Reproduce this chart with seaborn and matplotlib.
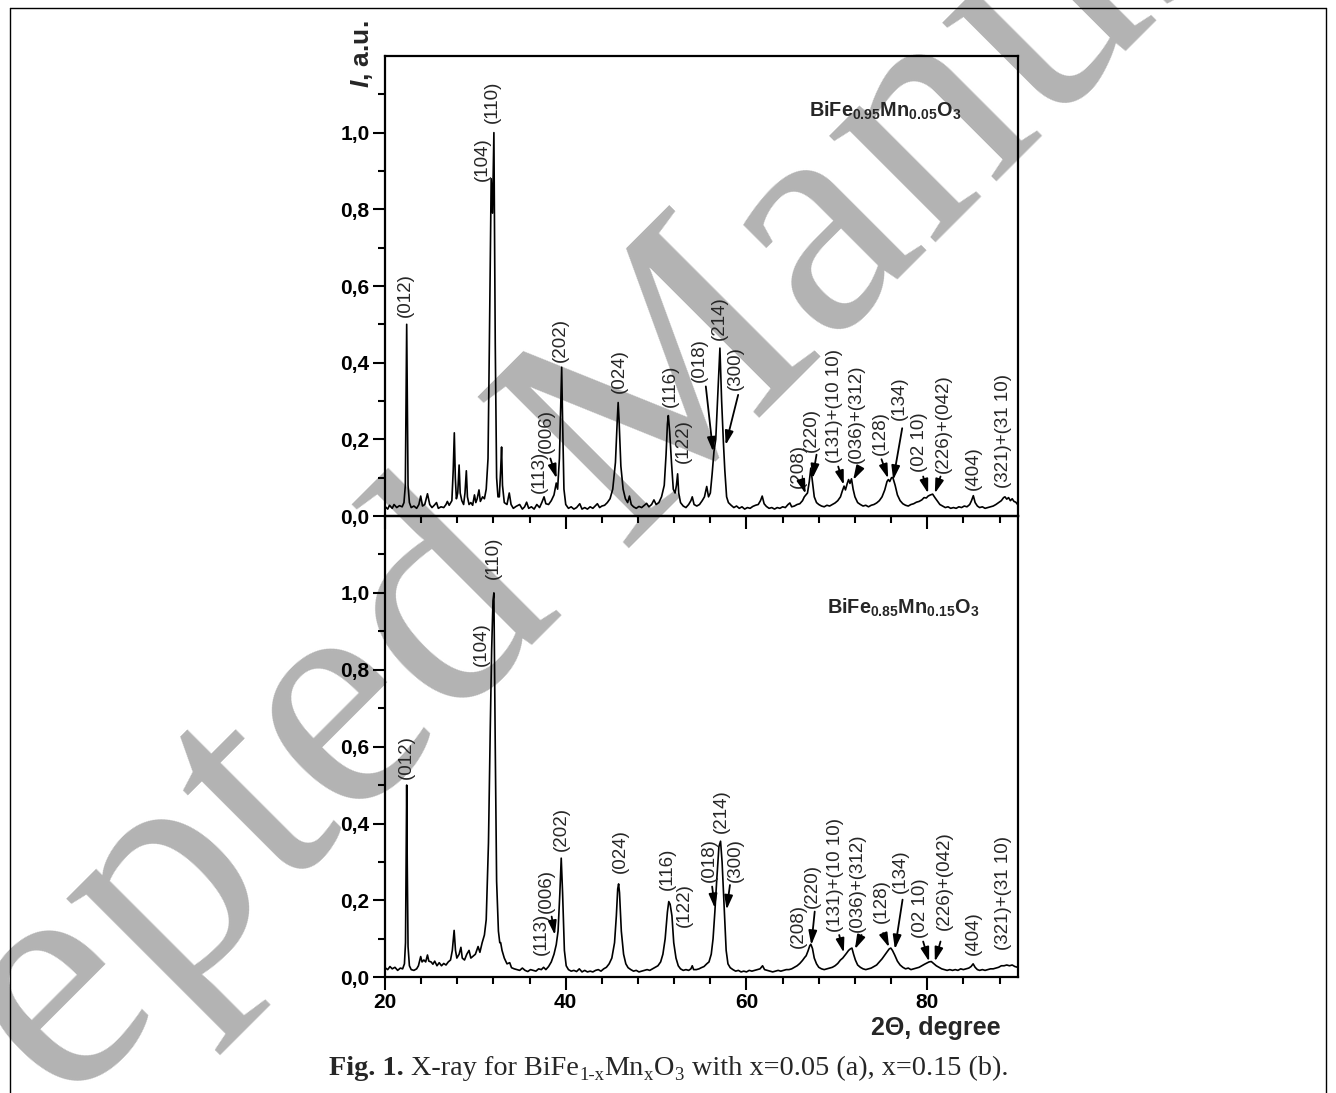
import matplotlib
matplotlib.use("Agg")
import matplotlib.pyplot as plt
import numpy as np
import pandas as pd
import seaborn as sns
from matplotlib.ticker import FixedLocator, MultipleLocator, FuncFormatter, NullFormatter
from matplotlib.lines import Line2D

# ---------------- data ----------------
# 2theta (degree), intensity (a.u.) for BiFe0.95Mn0.05O3
pattern_a = [
    (20.0, 0.025), (20.3, 0.018), (20.5, 0.028), (20.8, 0.020), (21.0, 0.030), (21.3, 0.022),
    (21.6, 0.027), (21.9, 0.024), (22.1, 0.035), (22.25, 0.08), (22.33, 0.30), (22.4, 0.50),
    (22.47, 0.30), (22.55, 0.08), (22.7, 0.035), (22.9, 0.022), (23.2, 0.026), (23.5, 0.020),
    (23.75, 0.030), (23.95, 0.052), (24.15, 0.026), (24.4, 0.030), (24.7, 0.058), (24.95, 0.030),
    (25.2, 0.022), (25.45, 0.028), (25.7, 0.035), (25.9, 0.020), (26.2, 0.024), (26.5, 0.022),
    (26.75, 0.030), (26.9, 0.038), (27.1, 0.028), (27.4, 0.040), (27.55, 0.12), (27.67, 0.217),
    (27.78, 0.10), (27.9, 0.045), (28.05, 0.06), (28.2, 0.133), (28.32, 0.06), (28.5, 0.040),
    (28.7, 0.030), (28.85, 0.06), (29.0, 0.118), (29.12, 0.05), (29.3, 0.030), (29.5, 0.035),
    (29.7, 0.028), (29.9, 0.055), (30.05, 0.035), (30.2, 0.045), (30.4, 0.068), (30.55, 0.038),
    (30.8, 0.05), (31.0, 0.045), (31.2, 0.07), (31.4, 0.15), (31.55, 0.45), (31.75, 0.88),
    (31.9, 0.79), (32.05, 1.0), (32.2, 0.45), (32.35, 0.10), (32.5, 0.05), (32.65, 0.05),
    (32.8, 0.12), (32.9, 0.18), (33.0, 0.08), (33.2, 0.035), (33.5, 0.03), (33.75, 0.06),
    (33.95, 0.03), (34.2, 0.020), (34.5, 0.025), (34.9, 0.030), (35.2, 0.018), (35.45, 0.024),
    (35.67, 0.036), (35.9, 0.020), (36.2, 0.024), (36.5, 0.018), (36.8, 0.030), (37.1, 0.022),
    (37.35, 0.035), (37.6, 0.050), (37.8, 0.032), (38.1, 0.030), (38.4, 0.040), (38.7, 0.055),
    (38.95, 0.086), (39.1, 0.07), (39.3, 0.15), (39.45, 0.30), (39.55, 0.388), (39.65, 0.25),
    (39.8, 0.07), (40.0, 0.030), (40.3, 0.020), (40.6, 0.024), (40.9, 0.018), (41.2, 0.022),
    (41.55, 0.032), (41.8, 0.018), (42.1, 0.022), (42.4, 0.018), (42.7, 0.024), (43.0, 0.020),
    (43.25, 0.026), (43.5, 0.032), (43.75, 0.022), (44.0, 0.026), (44.3, 0.028), (44.6, 0.035),
    (44.9, 0.045), (45.2, 0.07), (45.5, 0.14), (45.7, 0.25), (45.8, 0.296), (45.9, 0.25),
    (46.1, 0.13), (46.35, 0.07), (46.6, 0.045), (46.85, 0.035), (47.05, 0.052), (47.25, 0.030),
    (47.5, 0.024), (47.8, 0.020), (48.1, 0.025), (48.4, 0.022), (48.7, 0.028), (48.95, 0.033),
    (49.2, 0.024), (49.5, 0.030), (49.76, 0.042), (50.0, 0.030), (50.3, 0.035), (50.6, 0.05),
    (50.9, 0.08), (51.1, 0.16), (51.25, 0.24), (51.35, 0.262), (51.5, 0.22), (51.7, 0.14),
    (51.9, 0.07), (52.1, 0.06), (52.25, 0.08), (52.38, 0.11), (52.5, 0.06), (52.7, 0.035),
    (53.0, 0.026), (53.3, 0.022), (53.6, 0.030), (53.85, 0.040), (54.0, 0.050), (54.2, 0.030),
    (54.5, 0.026), (54.8, 0.030), (55.1, 0.040), (55.35, 0.050), (55.6, 0.077), (55.8, 0.05),
    (56.0, 0.06), (56.2, 0.11), (56.4, 0.168), (56.6, 0.20), (56.85, 0.33), (57.06, 0.438),
    (57.25, 0.30), (57.45, 0.19), (57.6, 0.12), (57.8, 0.05), (58.0, 0.035), (58.3, 0.028),
    (58.6, 0.022), (58.9, 0.026), (59.2, 0.020), (59.5, 0.024), (59.8, 0.018), (60.1, 0.022),
    (60.4, 0.020), (60.7, 0.025), (61.0, 0.028), (61.3, 0.030), (61.55, 0.040), (61.74, 0.052),
    (61.95, 0.032), (62.2, 0.025), (62.5, 0.020), (62.8, 0.022), (63.1, 0.018), (63.4, 0.022),
    (63.7, 0.020), (64.0, 0.024), (64.3, 0.022), (64.6, 0.030), (64.8, 0.034), (65.0, 0.024),
    (65.3, 0.026), (65.6, 0.030), (65.9, 0.032), (66.2, 0.040), (66.4, 0.050), (66.57, 0.055),
    (66.75, 0.06), (66.95, 0.09), (67.12, 0.125), (67.3, 0.09), (67.5, 0.05), (67.75, 0.035),
    (68.0, 0.030), (68.3, 0.026), (68.6, 0.024), (68.9, 0.028), (69.2, 0.026), (69.5, 0.030),
    (69.8, 0.034), (70.1, 0.040), (70.4, 0.05), (70.6, 0.065), (70.8, 0.078), (70.95, 0.068),
    (71.15, 0.085), (71.3, 0.095), (71.45, 0.085), (71.62, 0.097), (71.8, 0.07), (72.0, 0.05),
    (72.3, 0.035), (72.6, 0.030), (72.9, 0.026), (73.2, 0.028), (73.5, 0.024), (73.8, 0.028),
    (74.1, 0.030), (74.4, 0.034), (74.7, 0.040), (75.0, 0.05), (75.3, 0.068), (75.55, 0.09),
    (75.7, 0.095), (75.85, 0.09), (76.05, 0.10), (76.2, 0.10), (76.45, 0.08), (76.7, 0.055),
    (77.0, 0.040), (77.3, 0.032), (77.6, 0.028), (77.9, 0.026), (78.2, 0.030), (78.5, 0.032),
    (78.8, 0.036), (79.1, 0.038), (79.4, 0.042), (79.65, 0.048), (79.9, 0.047), (80.1, 0.052),
    (80.35, 0.055), (80.6, 0.057), (80.85, 0.048), (81.1, 0.040), (81.4, 0.030), (81.7, 0.026),
    (82.0, 0.022), (82.3, 0.024), (82.6, 0.020), (82.9, 0.022), (83.2, 0.020), (83.5, 0.024),
    (83.8, 0.022), (84.1, 0.026), (84.4, 0.024), (84.7, 0.030), (84.9, 0.040), (85.1, 0.053),
    (85.3, 0.035), (85.55, 0.026), (85.8, 0.022), (86.1, 0.024), (86.4, 0.020), (86.7, 0.022),
    (87.0, 0.024), (87.3, 0.026), (87.6, 0.030), (87.9, 0.035), (88.2, 0.040), (88.45, 0.048),
    (88.6, 0.050), (88.8, 0.044), (89.0, 0.048), (89.2, 0.040), (89.4, 0.045), (89.6, 0.038),
    (89.8, 0.036), (90.0, 0.030),
]

# 2theta (degree), intensity (a.u.) for BiFe0.85Mn0.15O3
pattern_b = [
    (20.0, 0.025), (20.3, 0.020), (20.55, 0.028), (20.8, 0.022), (21.1, 0.026), (21.4, 0.018),
    (21.7, 0.024), (21.95, 0.022), (22.15, 0.035), (22.27, 0.09), (22.34, 0.30), (22.4, 0.50),
    (22.46, 0.30), (22.55, 0.08), (22.7, 0.03), (22.9, 0.020), (23.2, 0.018), (23.5, 0.022),
    (23.7, 0.030), (23.85, 0.045), (23.95, 0.054), (24.1, 0.040), (24.3, 0.045), (24.5, 0.040),
    (24.7, 0.058), (24.85, 0.042), (25.1, 0.040), (25.3, 0.034), (25.5, 0.042), (25.75, 0.030),
    (26.0, 0.038), (26.25, 0.030), (26.5, 0.036), (26.75, 0.032), (27.0, 0.040), (27.25, 0.045),
    (27.45, 0.07), (27.65, 0.122), (27.8, 0.07), (27.95, 0.05), (28.2, 0.06), (28.4, 0.078),
    (28.55, 0.05), (28.8, 0.045), (29.05, 0.06), (29.3, 0.07), (29.5, 0.05), (29.75, 0.055),
    (30.0, 0.06), (30.3, 0.08), (30.5, 0.065), (30.75, 0.09), (31.0, 0.11), (31.2, 0.15),
    (31.45, 0.35), (31.65, 0.65), (31.8, 0.85), (31.95, 0.98), (32.05, 1.0), (32.2, 0.60),
    (32.35, 0.25), (32.55, 0.12), (32.7, 0.09), (32.8, 0.09), (32.95, 0.07), (33.2, 0.05),
    (33.5, 0.035), (33.8, 0.038), (34.0, 0.025), (34.3, 0.022), (34.6, 0.020), (34.9, 0.018),
    (35.2, 0.024), (35.5, 0.018), (35.8, 0.015), (36.1, 0.020), (36.4, 0.018), (36.7, 0.016),
    (37.0, 0.022), (37.3, 0.020), (37.55, 0.026), (37.8, 0.020), (38.1, 0.028), (38.4, 0.040),
    (38.7, 0.060), (38.95, 0.085), (39.15, 0.12), (39.35, 0.22), (39.5, 0.31), (39.65, 0.22),
    (39.85, 0.07), (40.05, 0.030), (40.3, 0.020), (40.6, 0.016), (40.9, 0.018), (41.2, 0.015),
    (41.5, 0.022), (41.8, 0.014), (42.1, 0.018), (42.4, 0.014), (42.7, 0.016), (43.0, 0.014),
    (43.3, 0.018), (43.6, 0.020), (43.9, 0.016), (44.2, 0.022), (44.5, 0.026), (44.8, 0.035),
    (45.1, 0.05), (45.4, 0.09), (45.6, 0.16), (45.75, 0.23), (45.85, 0.243), (45.95, 0.22),
    (46.15, 0.12), (46.4, 0.06), (46.65, 0.035), (46.9, 0.025), (47.2, 0.020), (47.5, 0.016),
    (47.8, 0.018), (48.1, 0.014), (48.4, 0.016), (48.7, 0.018), (49.0, 0.020), (49.3, 0.018),
    (49.6, 0.022), (49.9, 0.026), (50.2, 0.030), (50.5, 0.040), (50.75, 0.06), (51.0, 0.10),
    (51.25, 0.17), (51.4, 0.197), (51.55, 0.19), (51.75, 0.16), (51.95, 0.09), (52.2, 0.05),
    (52.45, 0.030), (52.7, 0.022), (53.0, 0.018), (53.3, 0.020), (53.6, 0.018), (53.85, 0.022),
    (54.0, 0.030), (54.15, 0.020), (54.45, 0.020), (54.75, 0.022), (55.0, 0.025), (55.3, 0.028),
    (55.6, 0.035), (55.85, 0.040), (56.1, 0.06), (56.3, 0.10), (56.5, 0.17), (56.7, 0.25),
    (56.95, 0.34), (57.13, 0.354), (57.3, 0.30), (57.55, 0.17), (57.75, 0.07), (57.95, 0.035),
    (58.2, 0.025), (58.5, 0.020), (58.8, 0.016), (59.1, 0.018), (59.4, 0.014), (59.7, 0.016),
    (60.0, 0.014), (60.3, 0.018), (60.6, 0.016), (60.9, 0.018), (61.2, 0.020), (61.5, 0.022),
    (61.78, 0.030), (62.0, 0.020), (62.3, 0.018), (62.6, 0.016), (62.9, 0.014), (63.2, 0.016),
    (63.5, 0.018), (63.8, 0.016), (64.1, 0.018), (64.4, 0.020), (64.7, 0.020), (65.0, 0.022),
    (65.3, 0.026), (65.6, 0.030), (65.9, 0.036), (66.2, 0.044), (66.45, 0.052), (66.6, 0.056),
    (66.8, 0.068), (67.0, 0.082), (67.12, 0.086), (67.3, 0.075), (67.5, 0.05), (67.75, 0.035),
    (68.0, 0.026), (68.3, 0.022), (68.6, 0.020), (68.9, 0.022), (69.2, 0.024), (69.5, 0.026),
    (69.8, 0.030), (70.1, 0.036), (70.4, 0.045), (70.65, 0.05), (70.85, 0.056), (71.05, 0.062),
    (71.3, 0.07), (71.5, 0.074), (71.67, 0.076), (71.85, 0.06), (72.05, 0.045), (72.3, 0.032),
    (72.6, 0.026), (72.9, 0.022), (73.2, 0.020), (73.5, 0.022), (73.8, 0.024), (74.1, 0.028),
    (74.4, 0.032), (74.7, 0.040), (75.0, 0.048), (75.3, 0.058), (75.55, 0.066), (75.8, 0.074),
    (75.97, 0.076), (76.15, 0.07), (76.4, 0.058), (76.7, 0.042), (77.0, 0.032), (77.3, 0.026),
    (77.6, 0.022), (77.9, 0.024), (78.2, 0.020), (78.5, 0.022), (78.8, 0.024), (79.1, 0.026),
    (79.4, 0.030), (79.7, 0.034), (79.95, 0.037), (80.2, 0.040), (80.45, 0.041), (80.7, 0.036),
    (81.0, 0.030), (81.3, 0.026), (81.6, 0.022), (81.9, 0.020), (82.2, 0.018), (82.5, 0.020),
    (82.8, 0.018), (83.1, 0.020), (83.4, 0.018), (83.7, 0.022), (84.0, 0.020), (84.3, 0.022),
    (84.6, 0.024), (84.85, 0.028), (85.08, 0.035), (85.3, 0.026), (85.55, 0.020), (85.8, 0.018),
    (86.1, 0.020), (86.4, 0.018), (86.7, 0.020), (87.0, 0.022), (87.3, 0.022), (87.6, 0.024),
    (87.9, 0.026), (88.2, 0.030), (88.5, 0.030), (88.8, 0.032), (89.1, 0.030), (89.4, 0.032),
    (89.7, 0.028), (90.0, 0.026),
]

formula_a = r"$\mathbf{BiFe_{0.95}Mn_{0.05}O_3}$"
formula_b = r"$\mathbf{BiFe_{0.85}Mn_{0.15}O_3}$"

# peak labels: (text, 2theta of label, intensity at label start)
labels_a = [
    ("(012)", 22.2, 0.52), ("(104)", 30.8, 0.873), ("(110)", 31.9, 1.025),
    ("(113)", 37.07, 0.06), ("(006)", 37.9, 0.164), ("(202)", 39.36, 0.403),
    ("(024)", 45.92, 0.32), ("(116)", 51.53, 0.285), ("(122)", 53.0, 0.137),
    ("(018)", 54.77, 0.35), ("(214)", 56.98, 0.46), ("(300)", 58.72, 0.33),
    ("(208)", 65.72, 0.072), ("(220)", 67.2, 0.168), ("(131)+(10 10)", 69.78, 0.137),
    ("(036)+(312)", 72.18, 0.137), ("(128)", 74.87, 0.159), ("(134)", 76.97, 0.25),
    ("(02 10)", 79.1, 0.116), ("(226)+(042)", 81.76, 0.111), ("(404)", 85.08, 0.068),
    ("(321)+(31 10)", 88.4, 0.072),
]
arrows_a = [
    ((38.3, 0.150), (39.0, 0.098)), ((55.5, 0.338), (56.3, 0.168)),
    ((59.08, 0.316), (57.69, 0.185)), ((66.3, 0.075), (66.55, 0.058)),
    ((67.75, 0.16), (67.3, 0.098)), ((70.15, 0.129), (70.77, 0.081)),
    ((72.54, 0.126), (71.8, 0.094)), ((74.94, 0.148), (75.68, 0.098)),
    ((77.23, 0.229), (76.23, 0.094)), ((79.55, 0.103), (80.1, 0.059)),
    ((81.47, 0.103), (80.84, 0.059)),
]
labels_b = [
    ("(012)", 22.4, 0.515), ("(104)", 30.7, 0.81), ("(110)", 32.0, 1.036),
    ("(113)", 37.3, 0.058), ("(006)", 37.85, 0.167), ("(202)", 39.53, 0.328),
    ("(024)", 46.0, 0.271), ("(116)", 51.23, 0.228), ("(122)", 53.08, 0.132),
    ("(018)", 55.88, 0.249), ("(214)", 57.25, 0.376), ("(300)", 58.72, 0.249),
    ("(208)", 65.72, 0.076), ("(220)", 67.3, 0.18), ("(131)+(10 10)", 69.9, 0.119),
    ("(036)+(312)", 72.25, 0.119), ("(128)", 74.94, 0.141), ("(134)", 77.04, 0.219),
    ("(02 10)", 79.25, 0.102), ("(226)+(042)", 81.95, 0.123), ("(404)", 85.08, 0.057),
    ("(321)+(31 10)", 88.48, 0.071),
]
arrows_b = [
    ((38.44, 0.158), (38.8, 0.11)), ((56.2, 0.236), (56.5, 0.18)),
    ((58.17, 0.24), (57.8, 0.176)), ((67.55, 0.171), (67.17, 0.084)),
    ((70.26, 0.11), (70.77, 0.064)), ((72.73, 0.11), (71.99, 0.073)),
    ((75.12, 0.115), (75.78, 0.078)), ((77.27, 0.202), (76.42, 0.073)),
    ((79.55, 0.093), (80.21, 0.041)), ((81.47, 0.093), (80.84, 0.041)),
]

y_major = [0.0, 0.2, 0.4, 0.6, 0.8, 1.0]
y_minor = [0.1, 0.3, 0.5, 0.7, 0.9, 1.1]
x_major = [20, 40, 60, 80]

# caption pieces: (text, is_subscript)
caption_pieces = [("X-ray for BiFe", False), ("1-x", True), ("Mn", False), ("x", True),
                  ("O", False), ("3", True), ("with x=0.05 (a), x=0.15 (b).", False)]

# ---------------- style ----------------
sns.set_style("ticks")
plt.rcParams.update({
    "font.family": ["Liberation Sans", "DejaVu Sans"],
    "mathtext.fontset": "custom",
    "mathtext.bf": "Liberation Sans:bold",
    "mathtext.it": "Liberation Sans:italic:bold",
    "mathtext.rm": "Liberation Sans:bold",
    "mathtext.sf": "Liberation Sans:bold",
    "axes.linewidth": 1.6,
    "axes.edgecolor": "black",
    "xtick.color": "black",
    "ytick.color": "black",
})

W, H = 1336, 1093
fig = plt.figure(figsize=(W / 100, H / 100), dpi=100)
fig.patch.set_facecolor("white")

# watermark (behind the plot)
fig.text(0.47, 0.60, "Accepted Manuscript", rotation=45, rotation_mode="anchor",
         ha="center", va="center", fontsize=235, family="Liberation Serif",
         color="#b3b3b3", zorder=-5)

# frame around the figure
for xs, ys in [((10 / W, 10 / W), (0, 1 - 8 / H)), ((10 / W, 1326 / W), (1 - 8 / H, 1 - 8 / H)),
               ((1326 / W, 1326 / W), (1 - 8 / H, 0))]:
    fig.add_artist(Line2D(xs, ys, color="black", lw=1.0))

left, width = 385 / W, 632.6 / W
ax_a = fig.add_axes([left, 1 - 516 / H, width, 460 / H])
ax_b = fig.add_axes([left, 1 - 977.3 / H, width, 461.3 / H])

comma = FuncFormatter(lambda v, p: f"{v:.1f}".replace(".", ","))

panels = [
    (ax_a, pattern_a, labels_a, arrows_a, formula_a, (66.9, 1.041)),
    (ax_b, pattern_b, labels_b, arrows_b, formula_b, (68.9, 0.945)),
]
for ax, pat, labs, arrs, formula, fpos in panels:
    ax.set_facecolor("none")
    df = pd.DataFrame(pat, columns=["two_theta", "intensity"])
    sns.lineplot(data=df, x="two_theta", y="intensity", ax=ax, color="black",
                 linewidth=1.2, estimator=None, sort=False)
    ax.set_xlim(20, 90)
    ax.set_ylim(0, 1.2)
    ax.set_xlabel("")
    ax.set_ylabel("")
    ax.yaxis.set_major_locator(FixedLocator(y_major))
    ax.yaxis.set_minor_locator(FixedLocator(y_minor))
    ax.yaxis.set_major_formatter(comma)
    ax.xaxis.set_major_locator(FixedLocator(x_major))
    ax.xaxis.set_minor_locator(MultipleLocator(4))
    ax.tick_params(which="major", direction="out", length=9, width=1.5,
                   labelsize=15, pad=2)
    ax.tick_params(which="minor", direction="out", length=5, width=1.5)
    for lab in ax.get_xticklabels() + ax.get_yticklabels():
        lab.set_fontweight("bold")
    for s in ax.spines.values():
        s.set_visible(True)
        s.set_linewidth(1.6)
    for txt, x, y in labs:
        ax.text(x, y, txt, rotation=90, ha="center", va="bottom", fontsize=13.5)
    for (x0, y0), (x1, y1) in arrs:
        ax.annotate("", xy=(x1, y1), xytext=(x0, y0),
                    arrowprops=dict(arrowstyle="-|>,head_length=0.6,head_width=0.18",
                                    color="black", lw=1.3, shrinkA=0, shrinkB=0,
                                    mutation_scale=14))
    ax.text(fpos[0], fpos[1], formula, ha="left", va="baseline", fontsize=14.3)

ax_a.xaxis.set_major_formatter(NullFormatter())
ax_b.text(0.973, -0.11, "2Θ, degree", transform=ax_b.transAxes, ha="right",
          va="center", fontsize=18, fontweight="bold")
fig.text(362 / W, 1 - 54 / H, r"$\mathit{I}$, a.u.", rotation=90, ha="center",
         va="center", fontsize=19, fontweight="bold")

# caption (built piece by piece so the subscripts sit like in the reference)
fig.canvas.draw()
renderer = fig.canvas.get_renderer()
cap_size = 20.3
x_px = 329.0
base_px = H - 1075.0
t = fig.text(x_px / W, base_px / H, "Fig. 1.", family="Liberation Serif",
             fontweight="bold", fontsize=cap_size, va="baseline", ha="left")
x_px = t.get_window_extent(renderer).x1 + 7
for s, sub in caption_pieces:
    if s.startswith("with"):
        x_px += 8
    size = cap_size * 0.66 if sub else cap_size
    yb = base_px - 4.5 if sub else base_px
    t = fig.text(x_px / W, yb / H, s, family="Liberation Serif", fontsize=size,
                 va="baseline", ha="left")
    x_px = t.get_window_extent(renderer).x1 + (0.5 if sub else 0.3)

fig.savefig("out.png", dpi=100, facecolor="white")
